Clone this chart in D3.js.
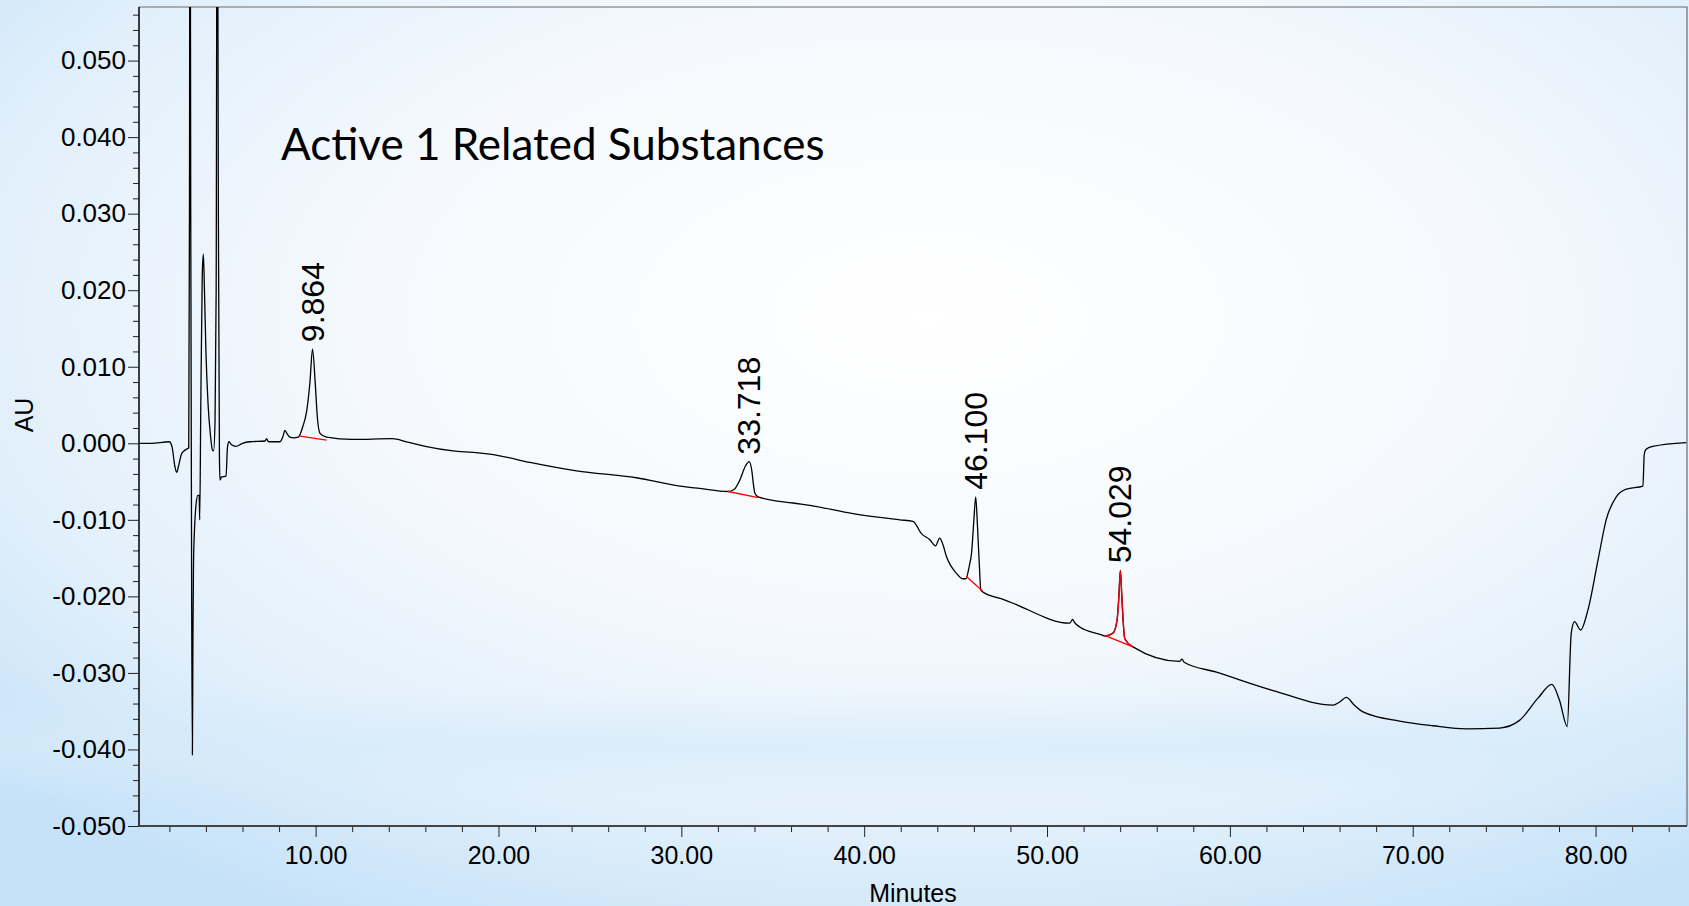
<!DOCTYPE html>
<html>
<head>
<meta charset="utf-8">
<script src="https://cdn.jsdelivr.net/npm/d3@7"></script>
<style>
  html, body { margin: 0; padding: 0; overflow: hidden; }
  svg { display: block; }
  .tick text { font-family: "Liberation Sans", Arial, sans-serif; fill: #000; }
</style>
</head>
<body>
<div id="chart"></div>
<script>
// chromatogram trace, time in minutes and absorbance in AU
var times = [
  0.34, 1.0, 2.0, 2.15, 2.30, 2.40, 2.50, 2.65, 2.80, 3.00, 3.06, 3.10, 3.13, 3.17, 3.22, 3.26,
  3.29, 3.32, 3.38, 3.46, 3.56, 3.63, 3.66, 3.72, 3.80, 3.86, 3.92, 4.00, 4.12, 4.25, 4.36, 4.42,
  4.50, 4.56, 4.62, 4.68, 4.74, 4.77, 4.85, 5.10, 5.18, 5.26, 5.40, 5.64, 6.00, 6.41, 7.23, 7.32,
  7.42, 8.05, 8.20, 8.32, 8.45, 8.60, 8.80, 9.05, 9.30, 9.51, 9.69, 9.83, 9.98, 10.09, 10.24, 10.60,
  12.0, 14.2, 14.97, 16.0, 17.52, 18.62, 20.0, 21.72, 24.27, 27.55, 29.92, 31.0, 32.56, 32.9, 33.2, 33.5,
  33.71, 33.85, 33.95, 34.02, 34.2, 36.11, 37.03, 39.39, 41.95, 42.67, 43.13, 43.59, 43.9, 44.13, 44.3, 44.5,
  45.05, 45.4, 45.56, 45.75, 45.87, 46.0, 46.1, 46.2, 46.3, 46.38, 46.47, 47.6, 48.14, 51.24, 51.40, 51.5,
  51.79, 53.06, 53.15, 53.61, 53.83, 53.93, 54.01, 54.09, 54.16, 54.25, 54.7, 57.25, 57.38, 57.5, 59.26, 62.36,
  65.64, 66.0, 66.37, 66.8, 67.28, 69.28, 71.1, 72.93, 74.75, 75.84, 76.85, 77.61, 78.03, 78.45, 78.67, 78.85,
  79.18, 79.58, 80.13, 80.58, 81.13, 81.68, 82.59, 82.66, 82.75, 83.13, 84.96
];
var absorbance = [
  0.0000, 0.0000, 0.0002, -0.0005, -0.0030, -0.0038, -0.0030, -0.0015, -0.0010, -0.0007, -0.0006, 0.0300, 0.0900, 0.0300, -0.0200, -0.0407,
  -0.0250, -0.0160, -0.0110, -0.0080, -0.0068, -0.0068, -0.0100, 0.0050, 0.0220, 0.0247, 0.0200, 0.0120, 0.0050, 0.0010, -0.0009, -0.0010,
  0.0030, 0.0200, 0.0900, 0.0300, -0.0020, -0.0048, -0.0044, -0.0043, -0.0005, 0.0002, -0.0002, -0.0004, 0.0000, 0.0002, 0.0003, 0.0006,
  0.0002, 0.0002, 0.0008, 0.0017, 0.0012, 0.0008, 0.0007, 0.0008, 0.0022, 0.0042, 0.0080, 0.0123, 0.0078, 0.0035, 0.0013, 0.0008,
  0.0005, 0.0006, 0.0002, -0.0004, -0.0010, -0.0012, -0.0016, -0.0025, -0.0036, -0.0045, -0.0056, -0.0059, -0.0063, -0.0060, -0.0048, -0.0030,
  -0.0024, -0.0035, -0.0055, -0.0065, -0.0070, -0.0078, -0.0081, -0.0092, -0.0100, -0.0102, -0.0118, -0.0126, -0.0134, -0.0124, -0.0132, -0.0148,
  -0.0170, -0.0177, -0.0177, -0.0160, -0.0144, -0.0100, -0.0070, -0.0110, -0.0160, -0.0192, -0.0194, -0.0204, -0.0209, -0.0235, -0.0230, -0.0234,
  -0.0240, -0.0251, -0.0252, -0.0248, -0.0231, -0.0200, -0.0166, -0.0200, -0.0231, -0.0255, -0.0266, -0.0285, -0.0282, -0.0286, -0.0299, -0.0323,
  -0.0342, -0.0338, -0.0332, -0.0342, -0.0351, -0.0363, -0.0369, -0.0373, -0.0372, -0.0362, -0.0333, -0.0315, -0.0336, -0.0370, -0.0248, -0.0233,
  -0.0244, -0.0218, -0.0153, -0.0100, -0.0070, -0.0060, -0.0056, -0.0015, -0.0008, -0.0004, 0.0001
];

// integrated peaks: label, apex time, apex AU
var peakNames = ["9.864", "33.718", "46.100", "54.029"];
var peakTimes = [9.83, 33.71, 46.10, 54.01];
var peakHeights = [0.0123, -0.0024, -0.0070, -0.0166];

// red baselines drawn under each peak: [t0, v0, t1, v1]
var baseStart = [9.15, 32.56, 45.59, 53.15];
var baseStartAU = [0.00095, -0.0063, -0.0174, -0.0251];
var baseEnd = [10.6, 34.2, 46.47, 54.7];
var baseEndAU = [0.0004, -0.0071, -0.0193, -0.0266];

// the 54.029 peak trace is coloured red
var redPeakRange = [53.15, 54.7];

var yMajor = [-0.05, -0.04, -0.03, -0.02, -0.01, 0, 0.01, 0.02, 0.03, 0.04, 0.05];
var xMajor = [10, 20, 30, 40, 50, 60, 70, 80];

var width = 1689, height = 906;
var margin = {top: 7, right: 2, bottom: 80, left: 139};

var svg = d3.select("#chart").append("svg")
  .attr("width", width)
  .attr("height", height);

// background
var defs = svg.append("defs");
var bg = defs.append("radialGradient").attr("id", "bg")
  .attr("cx", "55%").attr("cy", "35%").attr("r", "75%")
  .attr("fx", "55%").attr("fy", "35%");
bg.append("stop").attr("offset", "0%").attr("stop-color", "#ffffff");
bg.append("stop").attr("offset", "45%").attr("stop-color", "#f5f9fd");
bg.append("stop").attr("offset", "75%").attr("stop-color", "#e2f0fb");
bg.append("stop").attr("offset", "100%").attr("stop-color", "#c6e2f8");
svg.append("rect").attr("width", width).attr("height", height).attr("fill", "url(#bg)");

var band = defs.append("linearGradient").attr("id", "band")
  .attr("x1", 0).attr("y1", 0).attr("x2", 0).attr("y2", 1);
band.append("stop").attr("offset", "0%").attr("stop-color", "#d6ebfa").attr("stop-opacity", 0);
band.append("stop").attr("offset", "50%").attr("stop-color", "#d6ebfa").attr("stop-opacity", 0.7);
band.append("stop").attr("offset", "100%").attr("stop-color", "#d6ebfa").attr("stop-opacity", 0);
svg.append("rect").attr("x", 0).attr("y", 690).attr("width", width).attr("height", 110).attr("fill", "url(#band)");

var x = d3.scaleLinear().domain([0.34, 85]).range([margin.left, width - margin.right]);
var y = d3.scaleLinear().domain([-0.05, 0.057]).range([height - margin.bottom, margin.top]);

defs.append("clipPath").attr("id", "plot-clip")
  .append("rect")
  .attr("x", x.range()[0]).attr("y", y.range()[1])
  .attr("width", x.range()[1] - x.range()[0])
  .attr("height", y.range()[0] - y.range()[1]);

// frame top and right
svg.append("path")
  .attr("d", "M" + x.range()[0] + "," + y.range()[1] + "H" + x.range()[1] + "V" + y.range()[0])
  .attr("fill", "none")
  .attr("stroke", "#6b6b6b")
  .attr("stroke-width", 1.2);

var locale = d3.formatLocale({decimal: ".", thousands: ",", grouping: [3], currency: ["", ""], minus: "-"});
var fmtY = locale.format(".3f");
var fmtX = locale.format(".2f");

var yMinor = d3.range(-50, 57, 2).map(function(d) { return d / 1000; })
  .filter(function(d) { return Math.round(d * 1000) % 10 != 0; });
var xMinor = d3.range(2, 85, 2).filter(function(d) { return d % 10 != 0; });

// y axis
svg.append("g")
  .attr("transform", "translate(" + x.range()[0] + ",0)")
  .call(d3.axisLeft(y).tickValues(yMinor).tickSize(6).tickFormat(""))
  .call(function(g) { g.select(".domain").remove(); });
var gy = svg.append("g")
  .attr("transform", "translate(" + x.range()[0] + ",0)")
  .call(d3.axisLeft(y).tickValues(yMajor).tickSize(11).tickPadding(2).tickFormat(fmtY));
gy.select(".domain").attr("d", "M0," + y.range()[0] + "V" + y.range()[1]).attr("stroke-width", 1.5);
gy.selectAll("text").style("font-size", "26px");

// x axis
svg.append("g")
  .attr("transform", "translate(0," + y.range()[0] + ")")
  .call(d3.axisBottom(x).tickValues(xMinor).tickSize(6).tickFormat(""))
  .call(function(g) { g.select(".domain").remove(); });
var gx = svg.append("g")
  .attr("transform", "translate(0," + y.range()[0] + ")")
  .call(d3.axisBottom(x).tickValues(xMajor).tickSize(11).tickPadding(9).tickFormat(fmtX));
gx.select(".domain").attr("d", "M" + x.range()[0] + ",0H" + x.range()[1]).attr("stroke", "#444").attr("stroke-width", 2);
gx.selectAll("text").style("font-size", "25px");

svg.selectAll(".tick line").attr("stroke", "#222");

svg.append("text")
  .attr("x", (x.range()[0] + x.range()[1]) / 2)
  .attr("y", 902)
  .attr("text-anchor", "middle")
  .style("font-family", "'Liberation Sans', Arial, sans-serif")
  .style("font-size", "25px")
  .text("Minutes");

svg.append("text")
  .attr("transform", "translate(33," + y(0.0037) + ") rotate(-90)")
  .attr("text-anchor", "middle")
  .style("font-family", "'Liberation Sans', Arial, sans-serif")
  .style("font-size", "25px")
  .text("AU");

// trace
var trace = times.map(function(t, i) { return {t: t, v: absorbance[i]}; });
var line = d3.line()
  .curve(d3.curveMonotoneX)
  .x(function(d) { return x(d.t); })
  .y(function(d) { return y(d.v); });

var plot = svg.append("g").attr("clip-path", "url(#plot-clip)");

plot.append("path")
  .datum(trace)
  .attr("d", line)
  .attr("fill", "none")
  .attr("stroke", "#000")
  .attr("stroke-width", 1.3);

plot.append("path")
  .datum(trace.filter(function(d) { return d.t >= redPeakRange[0] && d.t <= redPeakRange[1]; }))
  .attr("d", line)
  .attr("fill", "none")
  .attr("stroke", "#e8000b")
  .attr("stroke-width", 1.4);

plot.selectAll(".baseline")
  .data(baseStart)
  .enter().append("line")
  .attr("class", "baseline")
  .attr("x1", function(d) { return x(d); })
  .attr("y1", function(d, i) { return y(baseStartAU[i]); })
  .attr("x2", function(d, i) { return x(baseEnd[i]); })
  .attr("y2", function(d, i) { return y(baseEndAU[i]); })
  .attr("stroke", "#f00")
  .attr("stroke-width", 1.3);

// peak labels
svg.selectAll(".peak-label")
  .data(peakNames)
  .enter().append("text")
  .attr("class", "peak-label")
  .attr("transform", function(d, i) {
    return "translate(" + (x(peakTimes[i]) + 11) + "," + (y(peakHeights[i]) - 7) + ") rotate(-90)";
  })
  .style("font-family", "'Liberation Sans', Arial, sans-serif")
  .style("font-size", "32px")
  .text(function(d) { return d; });

svg.append("text")
  .attr("x", 281)
  .attr("y", 160)
  .style("font-family", "Lato, 'Open Sans', sans-serif")
  .style("font-size", "44px")
  .text("Active 1 Related Substances");
</script>
</body>
</html>
